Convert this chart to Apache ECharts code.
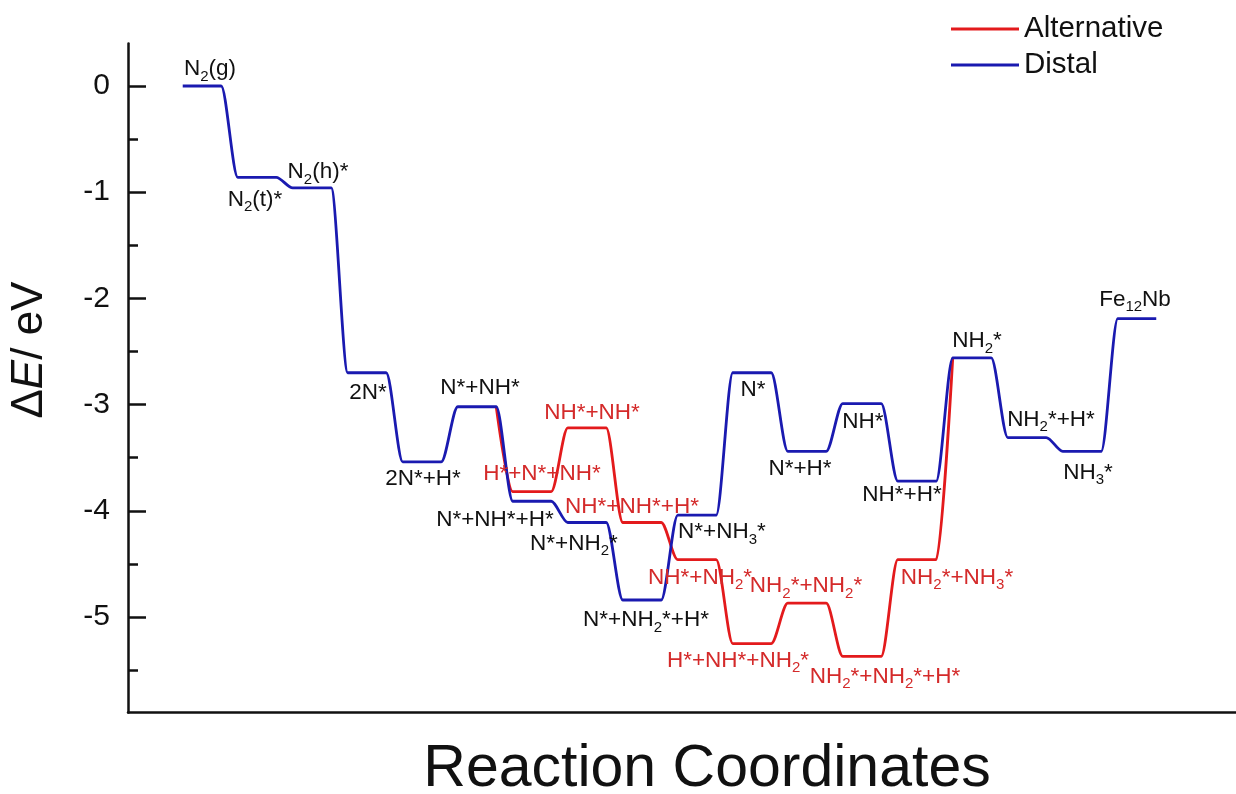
<!DOCTYPE html>
<html><head><meta charset="utf-8">
<script src="https://cdn.jsdelivr.net/npm/echarts@6/dist/echarts.min.js"></script>
<style>html,body{margin:0;padding:0;background:#fff}#c{width:1236px;height:794px}</style>
</head><body><div id="c"></div>
<script>
// ---------- data ----------
const distalNames = ['N{s|2}(g)', 'N{s|2}(t)*', 'N{s|2}(h)*', '2N*', '2N*+H*', 'N*+NH*', 'N*+NH*+H*', 'N*+NH{s|2}*', 'N*+NH{s|2}*+H*', 'N*+NH{s|3}*', 'N*', 'N*+H*', 'NH*', 'NH*+H*', 'NH{s|2}*', 'NH{s|2}*+H*', 'NH{s|3}*', 'Fe{s|12}Nb'];
const distalEnergy = [0, -0.86, -0.96, -2.70, -3.54, -3.02, -3.91, -4.11, -4.84, -4.04, -2.70, -3.44, -2.99, -3.72, -2.56, -3.31, -3.44, -2.19];
const altNames = [null, null, null, null, null, null, 'H*+N*+NH*', 'NH*+NH*', 'NH*+NH*+H*', 'NH*+NH{s|2}*', 'H*+NH*+NH{s|2}*', 'NH{s|2}*+NH{s|2}*', 'NH{s|2}*+NH{s|2}*+H*', 'NH{s|2}*+NH{s|3}*', null, null, null, null];
const altEnergy = [0, -0.86, -0.96, -2.70, -3.54, -3.02, -3.82, -3.22, -4.11, -4.46, -5.25, -4.87, -5.37, -4.46, -2.56, -3.31, -3.44, -2.19];
const yTickValues = [-5, -4, -3, -2, -1, 0];
const yMinorTickValues = [-5.5, -4.5, -3.5, -2.5, -1.5, -0.5];
const seriesNames = ['Alternative', 'Distal'];

// ---------- layout (pixel offsets of the state labels) ----------
const distalLabelOffset = [[8,-17],[-2,22],[6,-16],[1,20],[1,17],[3,-19],[-37,19],[-13,21],[4,20],[25,17],[1,17],[-7,17],[1,18],[-15,14],[5,-17],[24,-18],[6,21],[-2,-19]];
const altLabelOffset = [null,null,null,null,null,null,[10,-18],[5,-15],[-10,-16],[3,18],[-14,17],[-1,-17],[23,20],[40,18],null,null,null,null];

const FONT = '"Liberation Sans", Arial, Helvetica, sans-serif';
const HALF = 0.35;
const RED = '#e31a1c', BLUE = '#1a1ab0';

function steps(vals) {
  const out = [];
  vals.forEach((v, i) => { out.push([i - HALF, v], [i + HALF, v]); });
  return out;
}
// Alternative path: only the branch that leaves the distal path (shared parts are drawn by the distal line)
function branchSteps(vals, ref) {
  const diff = i => i >= 0 && i < vals.length && vals[i] !== ref[i];
  const out = [];
  vals.forEach((v, i) => {
    if (diff(i) || diff(i - 1)) out.push([i - HALF, v]);
    if (diff(i) || diff(i + 1)) out.push([i + HALF, v]);
  });
  return out;
}
const rich = { s: { fontSize: 15, padding: [15, 0, 0, 0], lineHeight: 15 } };

function labelSeries(names, vals, offsets, color) {
  const data = [];
  names.forEach((n, i) => {
    if (!n) return;
    data.push({ name: n, value: [i, vals[i]], label: { offset: offsets[i] } });
  });
  return {
    type: 'scatter', data, symbolSize: 1, silent: true, z: 5,
    itemStyle: { color: 'rgba(0,0,0,0)', opacity: 1 },
    emphasis: { disabled: true },
    label: { show: true, position: 'inside', color, fontSize: 22.5, fontFamily: FONT,
      formatter: p => p.name, rich }
  };
}

const chart = echarts.init(document.getElementById('c'), null, { renderer: 'canvas' });
chart.setOption({
  animation: false,
  backgroundColor: '#fff',
  textStyle: { fontFamily: FONT },
  grid: { left: 128, right: 0, top: 43.5, bottom: 81.4, containLabel: false, outerBoundsMode: 'none' },
  legend: {
    data: seriesNames, orient: 'vertical', left: 946, top: 9,
    icon: 'path://M0,0 L68,0 L68,2.8 L0,2.8 Z',
    itemWidth: 68, itemHeight: 14, itemGap: 6,
    textStyle: { fontSize: 29.5, fontFamily: FONT, color: '#111', lineHeight: 30 }
  },
  xAxis: {
    type: 'value', min: -1.345, max: 18.8,
    name: 'Reaction Coordinates', nameLocation: 'middle', nameGap: 28,
    nameTextStyle: { fontSize: 59, fontFamily: FONT, color: '#111', padding: [0, 0, 0, 50] },
    axisLine: { show: true, onZero: false, lineStyle: { color: '#111', width: 2.5 } },
    axisTick: { show: false }, axisLabel: { show: false }, splitLine: { show: false }
  },
  yAxis: [{
    type: 'value', min: -5.9, max: 0.4, position: 'left',
    name: '{n|Δ}{i|E}{n|/ eV}', nameLocation: 'middle', nameRotate: 90, nameGap: 76,
    nameTextStyle: { fontSize: 44, fontFamily: FONT, color: '#111', padding: [0, 0, 0, 56],
      rich: { n: { fontSize: 44, fontFamily: FONT, color: '#111' }, i: { fontSize: 44, fontStyle: 'italic', fontFamily: FONT, color: '#111' } } },
    axisLine: { show: true, onZero: false, lineStyle: { color: '#111', width: 2.5 } },
    axisTick: { show: true, inside: true, length: 18, customValues: yTickValues, lineStyle: { color: '#111', width: 2.5 } },
    axisLabel: { show: true, customValues: yTickValues, fontSize: 30, color: '#111', fontFamily: FONT, margin: 18 },
    splitLine: { show: false }
  }, {
    type: 'value', min: -5.9, max: 0.4, position: 'left',
    axisLine: { show: false, onZero: false },
    axisTick: { show: true, inside: true, length: 10, customValues: yMinorTickValues, lineStyle: { color: '#111', width: 2.5 } },
    axisLabel: { show: false },
    splitLine: { show: false }
  }],
  series: [
    { name: seriesNames[0], type: 'line', data: branchSteps(altEnergy, distalEnergy), symbol: 'none', smooth: 0.3, smoothMonotone: 'x',
      lineStyle: { color: RED, width: 2.8 }, itemStyle: { color: RED }, z: 2 },
    { name: seriesNames[1], type: 'line', data: steps(distalEnergy), symbol: 'none', smooth: 0.3, smoothMonotone: 'x',
      lineStyle: { color: BLUE, width: 2.8 }, itemStyle: { color: BLUE }, z: 3 },
    labelSeries(distalNames, distalEnergy, distalLabelOffset, '#111'),
    labelSeries(altNames, altEnergy, altLabelOffset, '#d42a2a')
  ]
});
</script></body></html>
